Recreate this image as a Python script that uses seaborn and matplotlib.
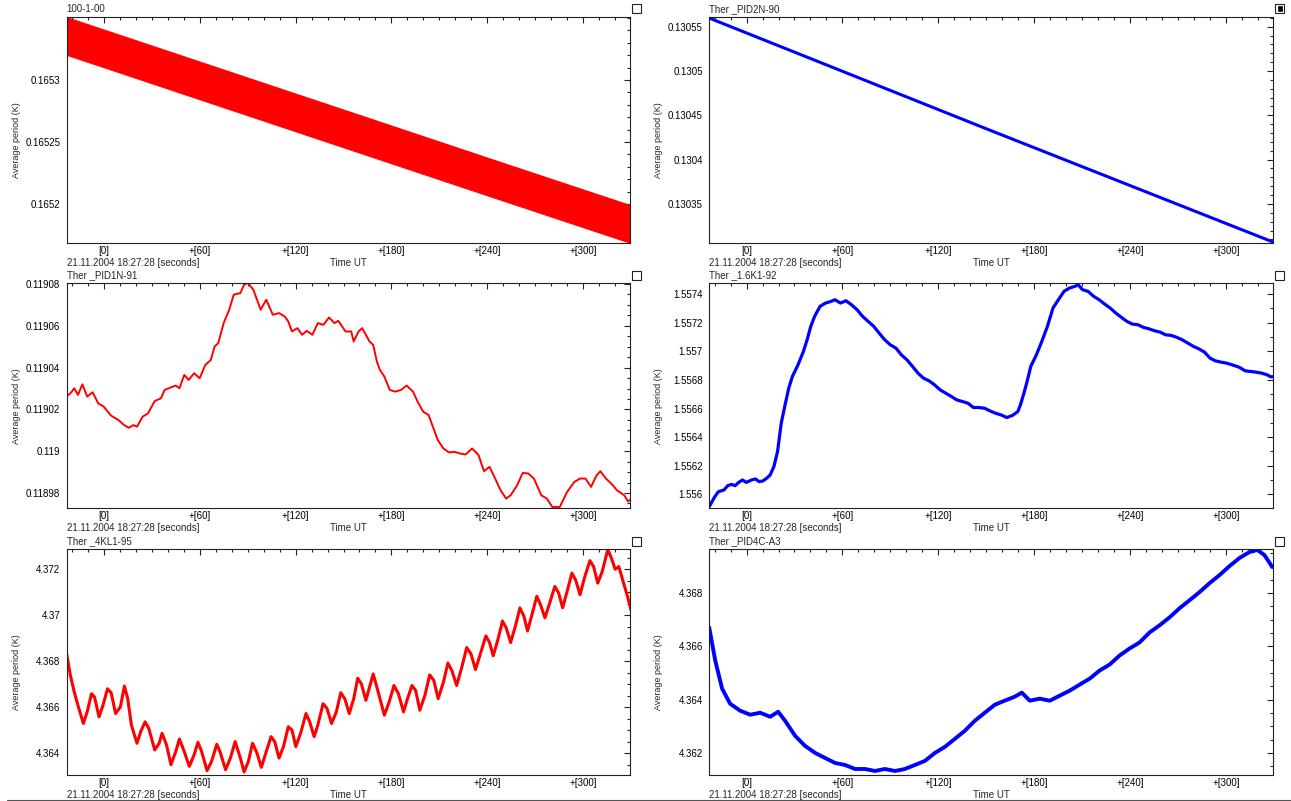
import numpy as np
import pandas as pd
import matplotlib
matplotlib.use("Agg")
import matplotlib.pyplot as plt
import seaborn as sns
from matplotlib.ticker import MultipleLocator
from matplotlib.patches import Rectangle
from matplotlib.lines import Line2D

# ---------------- data ----------------
titles = ["100-1-00", "Ther _PID2N-90", "Ther _PID1N-91",
          "Ther _1.6K1-92", "Ther _4KL1-95", "Ther _PID4C-A3"]
x_ticks = [0, 60, 120, 180, 240, 300]
x_tick_labels = ["[0]", "+[60]", "+[120]", "+[180]", "+[240]", "+[300]"]
date_label = "21.11.2004 18:27:28 [seconds]"
time_label = "Time UT"
y_label = "Average period (K)"

# panel 1: dense oscillating band (upper / lower envelope)
t1 = [-23.5, 60, 150, 240, 329.5]
v1_upper = [0.1653508, 0.1653149, 0.1652762, 0.1652375, 0.1651992]
v1_lower = [0.1653202, 0.1652843, 0.1652456, 0.1652069, 0.1651686]

# panel 2
t2 = [-23.5, 152.0, 329.5]
v2 = [0.1305598, 0.1304334, 0.1303070]

# panel 3
t3 = [-23.8, -21.1, -18.7, -16.4, -13.6, -10.6, -7.2, -3.7, -0.2, 4.4, 9.0, 12.5, 15.5, 18.3,
      20.6, 24.1, 27.5, 31.7, 35.6, 37.9, 41.4, 44.9, 47.2, 50.2, 53.0, 56.4, 59.9, 63.4, 66.9,
      69.2, 71.5, 74.9, 78.4, 81.2, 85.4, 87.7, 90.0, 93.5, 98.1, 101.6, 105.7, 109.6, 113.1,
      115.4, 117.7, 121.2, 124.0, 127.0, 130.5, 133.9, 137.4, 140.9, 144.3, 146.7, 151.3, 154.8,
      156.4, 159.4, 161.7, 166.3, 168.6, 170.9, 172.8, 175.6, 179.0, 182.5, 186.0, 189.5, 193.6,
      196.4, 199.9, 203.3, 205.6, 209.1, 212.6, 216.1, 219.5, 223.0, 226.5, 230.6, 234.6, 238.0,
      241.5, 245.0, 248.4, 251.9, 254.7, 258.8, 262.3, 265.8, 269.3, 273.9, 277.4, 280.8, 285.5,
      290.1, 294.7, 298.2, 301.6, 305.1, 308.6, 310.9, 314.4, 317.8, 321.3, 325.9, 328.2, 330.1]
v3 = [0.1190261, 0.1190277, 0.1190301, 0.1190269, 0.1190320, 0.1190261, 0.1190282, 0.1190229,
      0.1190213, 0.1190170, 0.1190149, 0.1190125, 0.1190112, 0.1190125, 0.1190117, 0.1190165,
      0.1190181, 0.1190240, 0.1190253, 0.1190293, 0.1190304, 0.1190314, 0.1190301, 0.1190365,
      0.1190341, 0.1190373, 0.1190349, 0.1190413, 0.1190437, 0.1190501, 0.1190517, 0.1190613,
      0.1190677, 0.1190749, 0.1190757, 0.1190797, 0.1190805, 0.1190773, 0.1190677, 0.1190725,
      0.1190653, 0.1190661, 0.1190645, 0.1190621, 0.1190573, 0.1190589, 0.1190557, 0.1190576,
      0.1190557, 0.1190613, 0.1190605, 0.1190640, 0.1190613, 0.1190624, 0.1190573, 0.1190573,
      0.1190525, 0.1190573, 0.1190589, 0.1190525, 0.1190509, 0.1190429, 0.1190389, 0.1190357,
      0.1190293, 0.1190285, 0.1190293, 0.1190314, 0.1190285, 0.1190237, 0.1190189, 0.1190173,
      0.1190125, 0.1190053, 0.1190013, 0.1189994, 0.1189997, 0.1189989, 0.1189984, 0.1190013,
      0.1189981, 0.1189904, 0.1189925, 0.1189869, 0.1189813, 0.1189773, 0.1189789, 0.1189837,
      0.1189896, 0.1189893, 0.1189869, 0.1189789, 0.1189773, 0.1189733, 0.1189733, 0.1189805,
      0.1189853, 0.1189869, 0.1189869, 0.1189829, 0.1189885, 0.1189904, 0.1189869, 0.1189845,
      0.1189813, 0.1189789, 0.1189760, 0.1189770]

# panel 4
t4 = [-23.8, -22.2, -19.9, -17.6, -14.1, -11.8, -9.5, -7.2, -4.9, -2.5, -0.2, 3.2, 5.6, 7.9,
      10.2, 12.5, 14.8, 17.1, 19.4, 21.7, 24.1, 26.4, 28.7, 32.2, 35.6, 37.9, 40.2, 42.6, 46.0,
      49.5, 53.0, 55.3, 58.8, 62.2, 65.7, 69.2, 72.6, 76.1, 79.6, 83.0, 86.5, 90.0, 93.5, 96.9,
      100.4, 103.9, 107.3, 110.8, 114.3, 117.7, 121.2, 124.7, 128.2, 131.6, 135.1, 138.6, 142.0,
      145.5, 149.0, 152.4, 155.9, 159.4, 162.9, 166.3, 169.8, 171.4, 173.3, 175.6, 177.9, 181.4,
      184.8, 188.3, 191.8, 195.2, 198.7, 202.2, 205.6, 207.5, 210.3, 213.7, 217.2, 220.7, 224.1,
      227.6, 231.1, 234.6, 238.0, 241.5, 245.0, 248.4, 251.9, 255.4, 258.8, 262.3, 265.8, 269.3,
      272.7, 276.2, 279.7, 283.1, 286.6, 290.1, 293.5, 297.0, 300.5, 305.1, 308.6, 312.1, 315.5,
      319.0, 322.5, 325.9, 328.2, 330.1]
v4 = [1.555907, 1.555937, 1.555984, 1.556019, 1.556031, 1.556061, 1.556070, 1.556061, 1.556084,
      1.556101, 1.556084, 1.556101, 1.556108, 1.556089, 1.556094, 1.556112, 1.556136, 1.556194,
      1.556299, 1.556497, 1.556625, 1.556742, 1.556824, 1.556905, 1.556999, 1.557080, 1.557174,
      1.557244, 1.557314, 1.557337, 1.557349, 1.557360, 1.557337, 1.557353, 1.557325, 1.557290,
      1.557244, 1.557209, 1.557174, 1.557127, 1.557080, 1.557045, 1.557022, 1.556975, 1.556940,
      1.556894, 1.556847, 1.556812, 1.556793, 1.556765, 1.556730, 1.556707, 1.556684, 1.556660,
      1.556649, 1.556637, 1.556607, 1.556607, 1.556602, 1.556583, 1.556567, 1.556555, 1.556537,
      1.556551, 1.556579, 1.556625, 1.556695, 1.556789, 1.556894, 1.556975, 1.557069, 1.557174,
      1.557302, 1.557360, 1.557419, 1.557442, 1.557454, 1.557465, 1.557430, 1.557419, 1.557384,
      1.557360, 1.557330, 1.557302, 1.557267, 1.557237, 1.557209, 1.557190, 1.557185, 1.557167,
      1.557157, 1.557143, 1.557134, 1.557115, 1.557111, 1.557097, 1.557080, 1.557057, 1.557034,
      1.557017, 1.556994, 1.556952, 1.556933, 1.556924, 1.556917, 1.556901, 1.556887, 1.556863,
      1.556859, 1.556854, 1.556847, 1.556835, 1.556821, 1.556824]

# panel 5
t5 = [-23.8, -21.1, -18.7, -16.4, -13.0, -10.6, -7.9, -6.0, -3.2, -0.7, 2.1, 4.4, 7.2, 10.2,
      12.7, 14.8, 17.1, 20.6, 22.9, 25.7, 28.0, 31.7, 34.5, 36.3, 39.1, 41.9, 44.9, 47.2, 50.2,
      53.4, 56.4, 58.8, 61.1, 64.5, 67.3, 70.6, 72.6, 76.1, 79.1, 82.1, 85.4, 87.7, 90.4, 93.0,
      95.8, 98.5, 101.6, 104.6, 106.9, 109.6, 112.4, 115.4, 117.7, 120.1, 123.1, 126.5, 128.8,
      131.6, 133.9, 137.2, 139.7, 142.5, 145.5, 148.3, 150.8, 153.6, 156.4, 158.9, 161.2, 164.0,
      166.3, 168.6, 170.9, 175.6, 178.6, 181.6, 184.4, 187.6, 190.1, 192.9, 195.2, 197.8, 201.0,
      204.0, 206.6, 209.3, 212.6, 215.4, 217.9, 220.9, 224.1, 227.2, 229.9, 232.7, 235.7, 239.2,
      241.5, 243.8, 246.8, 249.6, 251.9, 254.7, 257.7, 260.5, 263.0, 265.3, 268.1, 271.1, 273.4,
      276.2, 279.2, 282.4, 284.8, 287.3, 290.1, 293.1, 295.4, 298.2, 301.2, 304.4, 306.7, 309.3,
      312.1, 315.6, 317.9, 320.2, 322.5, 325.5, 328.2, 330.6]
v5 = [4.368452, 4.367375, 4.366657, 4.366082, 4.365292, 4.365795, 4.366585, 4.366441, 4.365580,
      4.366082, 4.366801, 4.366628, 4.365723, 4.366011, 4.366916, 4.366370, 4.365221, 4.364431,
      4.364933, 4.365364, 4.365077, 4.364143, 4.364431, 4.364862, 4.364359, 4.363497, 4.364072,
      4.364617, 4.364072, 4.363425, 4.363928, 4.364474, 4.364072, 4.363239, 4.363641, 4.364388,
      4.364072, 4.363282, 4.363784, 4.364503, 4.363784, 4.363181, 4.363641, 4.364431, 4.364000,
      4.363382, 4.364072, 4.364718, 4.364503, 4.363784, 4.364287, 4.365149, 4.365005, 4.364287,
      4.364862, 4.365723, 4.365364, 4.364718, 4.365221, 4.366154, 4.365939, 4.365292, 4.365795,
      4.366628, 4.366370, 4.365723, 4.366370, 4.367260, 4.367016, 4.366298, 4.366872, 4.367447,
      4.366872, 4.365652, 4.366226, 4.366944, 4.366585, 4.365795, 4.366370, 4.366944, 4.366729,
      4.365867, 4.366513, 4.367404, 4.367160, 4.366370, 4.367088, 4.367921, 4.367591, 4.366944,
      4.367734, 4.368596, 4.368309, 4.367634, 4.368309, 4.369099, 4.368811, 4.368237, 4.368955,
      4.369745, 4.369458, 4.368811, 4.369530, 4.370320, 4.369960, 4.369314, 4.370032, 4.370822,
      4.370463, 4.369889, 4.370535, 4.371253, 4.370966, 4.370320, 4.371038, 4.371828, 4.371540,
      4.370894, 4.371684, 4.372373, 4.372115, 4.371397, 4.371899, 4.372862, 4.372474, 4.372000,
      4.372115, 4.371397, 4.370750, 4.370104]

# panel 6
t6 = [-23.4, -19.6, -15.3, -10.3, -4.0, 2.3, 8.5, 14.8, 19.8, 24.1, 30.4, 36.6, 42.9, 49.1,
      55.4, 61.6, 67.9, 74.1, 80.4, 86.6, 92.9, 99.1, 105.4, 111.6, 117.9, 124.1, 130.4, 136.6,
      142.9, 149.1, 155.4, 161.6, 167.9, 172.3, 177.3, 183.5, 189.8, 196.0, 202.3, 208.5, 214.8,
      221.0, 227.3, 233.5, 239.8, 246.0, 252.3, 258.5, 264.8, 271.0, 277.3, 283.5, 289.8, 296.0,
      302.3, 308.5, 314.8, 319.8, 324.1, 329.1]
v6 = [4.366717, 4.365472, 4.364415, 4.363849, 4.363585, 4.363434, 4.363509, 4.363358, 4.363547,
      4.363208, 4.362642, 4.362264, 4.362000, 4.361811, 4.361623, 4.361547, 4.361396, 4.361396,
      4.361321, 4.361396, 4.361321, 4.361396, 4.361547, 4.361698, 4.362000, 4.362226, 4.362528,
      4.362830, 4.363208, 4.363509, 4.363811, 4.363962, 4.364113, 4.364264, 4.363962, 4.364038,
      4.363962, 4.364151, 4.364340, 4.364566, 4.364792, 4.365094, 4.365321, 4.365660, 4.365925,
      4.366151, 4.366528, 4.366792, 4.367094, 4.367434, 4.367736, 4.368038, 4.368377, 4.368679,
      4.369019, 4.369321, 4.369547, 4.369623, 4.369434, 4.368981]

# y ticks per panel
y_ticks = [
    [0.1652, 0.16525, 0.1653],
    [0.13035, 0.1304, 0.13045, 0.1305, 0.13055],
    [0.11898, 0.119, 0.11902, 0.11904, 0.11906, 0.11908],
    [1.556, 1.5562, 1.5564, 1.5566, 1.5568, 1.557, 1.5572, 1.5574],
    [4.364, 4.366, 4.368, 4.37, 4.372],
    [4.362, 4.364, 4.366, 4.368],
]
y_tick_labels = [
    ["0.1652", "0.16525", "0.1653"],
    ["0.13035", "0.1304", "0.13045", "0.1305", "0.13055"],
    ["0.11898", "0.119", "0.11902", "0.11904", "0.11906", "0.11908"],
    ["1.556", "1.5562", "1.5564", "1.5566", "1.5568", "1.557", "1.5572", "1.5574"],
    ["4.364", "4.366", "4.368", "4.37", "4.372"],
    ["4.362", "4.364", "4.366", "4.368"],
]
y_minor = [0.00001, 0.00001, 0.000005, 0.0001, 0.0005, 0.0005]
y_limits = [(0.1651685, 0.1653508), (0.1303059, 0.1305609), (0.1189728, 0.1190805),
            (1.555905, 1.557477), (4.36305, 4.37288), (4.36117, 4.36966)]
x_limits = (-23.5, 329.5)

# ---------------- style ----------------
sns.set_style("white")
plt.rcParams['font.family'] = ['Liberation Sans', 'DejaVu Sans']
plt.rcParams['axes.linewidth'] = 0.8

W, H = 1291, 801
fig = plt.figure(figsize=(W / 100, H / 100), dpi=100)
fig.patch.set_facecolor("white")

cols = [(66.6, 630.0), (709.0, 1273.0)]
rows = [(17.0, 243.0), (283.0, 508.0), (549.0, 775.0)]

RED = "#ff0000"
BLUE = "#0000ff"

axes = []
for r, (top, bot) in enumerate(rows):
    for c, (left, right) in enumerate(cols):
        ax = fig.add_axes([left / W, 1 - bot / H, (right - left) / W, (bot - top) / H])
        axes.append(ax)

# panel drawings
axes[0].fill_between(t1, v1_lower, v1_upper, color=RED, lw=0.6, edgecolor=RED)
sns.lineplot(x=t2, y=v2, ax=axes[1], color=BLUE, lw=2.2, estimator=None, sort=False)
sns.lineplot(x=t3, y=v3, ax=axes[2], color=RED, lw=1.4, estimator=None, sort=False)
sns.lineplot(x=t4, y=v4, ax=axes[3], color=BLUE, lw=2.3, estimator=None, sort=False)
sns.lineplot(x=t5, y=v5, ax=axes[4], color=RED, lw=2.2, estimator=None, sort=False)
sns.lineplot(x=t6, y=v6, ax=axes[5], color=BLUE, lw=2.8, estimator=None, sort=False)

for i, ax in enumerate(axes):
    ax.set_facecolor("white")
    ax.set_xlim(*x_limits)
    ax.set_ylim(*y_limits[i])
    ax.set_xticks(x_ticks, x_tick_labels)
    ax.xaxis.set_minor_locator(MultipleLocator(10))
    ax.set_yticks(y_ticks[i], y_tick_labels[i])
    ax.yaxis.set_minor_locator(MultipleLocator(y_minor[i]))
    ax.tick_params(which='both', direction='in', top=True, right=True,
                   colors='#222222', labelcolor='black', width=0.8)
    ax.tick_params(which='major', length=4.5, labelsize=7)
    ax.tick_params(which='minor', length=2.2)
    ax.tick_params(axis='x', which='major', pad=2.5)
    ax.tick_params(axis='y', which='major', pad=4.5)
    for s in ax.spines.values():
        s.set_color('#222222')
        s.set_linewidth(0.8)
        s.set_visible(True)
    ax.set_xlabel("")
    ax.set_ylabel(y_label, fontsize=6.5)
    ax.yaxis.set_label_coords(-0.081, 0.455)
    ax.annotate(titles[i], xy=(0, 1), xycoords='axes fraction', xytext=(0, 2),
                textcoords='offset points', ha='left', va='bottom', fontsize=7)
    ax.annotate(date_label, xy=(0, 0), xycoords='axes fraction', xytext=(0, -14.5),
                textcoords='offset points', ha='left', va='center', fontsize=7)
    ax.annotate(time_label, xy=(0.5, 0), xycoords='axes fraction', xytext=(0, -14.5),
                textcoords='offset points', ha='center', va='center', fontsize=7)

# checkbox decorations
box_pos = [(632, 4), (1275, 4), (632, 271), (1275, 271), (632, 537), (1275, 537)]
for i, (bx, by) in enumerate(box_pos):
    fig.add_artist(Rectangle((bx / W, 1 - (by + 9) / H), 9 / W, 9 / H,
                             transform=fig.transFigure, fill=False,
                             edgecolor='#222222', lw=0.8))
    if i == 1:
        fig.add_artist(Rectangle(((bx + 2.5) / W, 1 - (by + 6.5) / H), 4 / W, 4 / H,
                                 transform=fig.transFigure, fill=True,
                                 facecolor='black', edgecolor='black', lw=0.5))

fig.add_artist(Line2D([7 / W, 1.0], [0.8 / H, 0.8 / H], transform=fig.transFigure,
                      color='#555555', lw=0.8))

fig.savefig("out.png", dpi=100, facecolor="white")
